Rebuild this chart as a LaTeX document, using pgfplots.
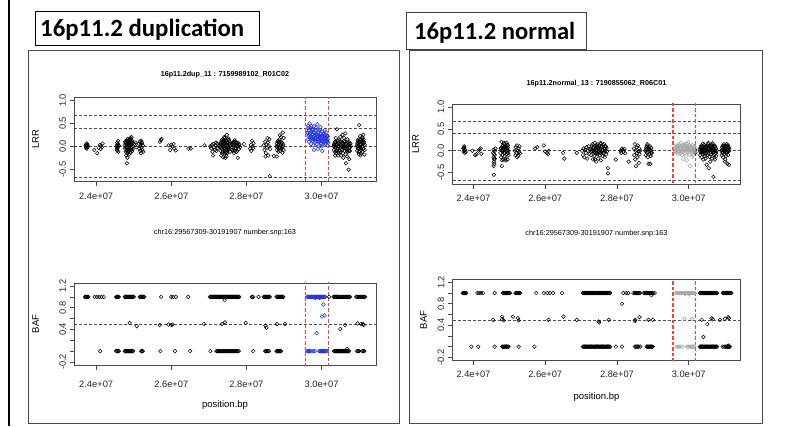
\documentclass[border=0pt]{standalone}
\usepackage{pgfplots}
\pgfplotsset{compat=1.18}
\usepackage{fontspec}
\setmainfont{Liberation Sans}
\newfontfamily\carlito{Carlito}
\definecolor{ptblue}{HTML}{2234E6}
\definecolor{ptgray}{HTML}{A8A8A8}
\definecolor{redl}{HTML}{F24444}
\definecolor{dashg}{HTML}{505050}
\definecolor{frameg}{HTML}{4A4A4A}
\pgfplotsset{
  rplot/.style={
    scale only axis, anchor=south west,
    xmin=23.41, xmax=31.45,
    axis line style={draw=frameg, line width=0.6pt},
    tick align=outside, major tick length=4.5pt,
    tick style={draw=frameg, line width=0.6pt},
    tick pos=left,
    xtick={24,26,28,30}, xticklabels={2.4e+07,2.6e+07,2.8e+07,3.0e+07},
    tick label style={font=\fontsize{9.3}{11}\selectfont, text=black!85},
    xticklabel style={yshift=-3pt},
    yticklabel style={rotate=90, anchor=south},
    clip=true,
  },
  pts/.style={only marks, mark=o, mark size=1.85pt, mark options={line width=0.5pt}},
  hl/.style={color=dashg, line width=0.55pt, dash pattern=on 3pt off 2pt},
  vl/.style={draw=redl, line width=1.4pt, dash pattern=on 3.5pt off 2pt},
}
\begin{document}
\begin{tikzpicture}[x=1pt,y=1pt]
\useasboundingbox (0,0) rectangle (811,426);
\draw[black, line width=2.6pt] (9,0) -- (9,426);
\draw[frameg, line width=0.9pt] (28,3) rectangle (399,376);
\draw[frameg, line width=0.9pt] (409.3,3) rectangle (762.7,375.3);

% ================= LEFT LRR =================
\begin{axis}[rplot, at={(74pt,244.4pt)}, width=302pt, height=84.4pt,
  ymin=-0.768, ymax=1.068, ytick={-0.5,0,0.5,1}, yticklabels={-0.5,0.0,0.5,1.0}]
\addplot[pts, black] coordinates {
(23.72,0.02)(23.73,-0.03)(23.74,0.04)(23.73,0.0)(23.75,-0.05)(23.76,0.01)(23.74,-0.02)(23.77,0.03)(23.75,0.06)(23.78,-0.01)
(23.95,-0.08)(24.03,-0.15)(24.07,-0.03)(24.1,0.03)(24.12,-0.06)(24.15,-0.02)(24.17,0.06)(24.13,0.01)
(24.54,0.0)(24.55,-0.08)(24.56,0.08)(24.57,-0.03)(24.58,0.05)(24.59,-0.12)(24.6,0.02)(24.55,0.03)(24.57,-0.1)(24.58,0.12)(24.56,-0.05)(24.59,0.0)
(24.76,0.02)(24.77,-0.05)(24.78,0.08)(24.79,-0.12)(24.8,0.0)(24.8,-0.2)(24.81,0.05)(24.82,-0.37)(24.82,-0.08)(24.83,0.1)(24.84,-0.15)(24.84,0.03)(24.85,-0.02)(24.86,0.12)(24.86,-0.1)(24.87,0.06)(24.88,-0.05)(24.88,0.15)(24.89,0.0)(24.9,-0.12)(24.9,0.08)(24.91,0.18)(24.92,-0.03)(24.92,0.1)(24.93,-0.08)(24.94,0.04)(24.94,0.2)(24.95,-0.02)(24.96,0.12)(24.96,-0.1)(24.97,0.06)(24.98,0.0)(24.83,-0.25)(24.87,-0.18)(24.93,0.16)(24.85,0.07)(24.81,-0.1)(24.89,0.1)
(24.77,0.1)(24.78,-0.02)(24.79,0.06)(24.81,0.13)(24.83,-0.04)(24.85,-0.12)(24.87,0.02)(24.89,-0.1)(24.91,0.04)(24.92,-0.14)(24.95,0.09)(24.97,-0.06)(24.84,0.16)(24.9,0.0)(24.86,-0.06)
(25.02,0.05)(25.05,0.08)(25.07,-0.02)
(25.14,0.05)(25.15,-0.05)(25.16,0.1)(25.17,-0.1)(25.18,0.0)(25.19,-0.15)(25.2,0.12)(25.21,-0.03)(25.22,0.07)(25.23,-0.08)(25.24,0.02)(25.25,-0.12)(25.19,0.04)(25.21,0.09)
(25.7,0.1)(25.72,0.14)(25.74,0.16)(25.93,0.02)(25.97,-0.08)(26.0,0.03)(26.03,0.0)(26.08,-0.05)(26.12,-0.09)(26.06,0.05)
(26.46,-0.05)(26.52,-0.05)(26.88,0.02)
(27.04,0.0)(27.06,-0.05)(27.08,0.03)(27.1,-0.12)(27.12,0.05)(27.14,-0.02)(27.16,-0.08)(27.18,0.02)(27.2,-0.1)(27.22,0.06)(27.24,-0.04)(27.26,0.0)(27.11,-0.2)(27.19,0.08)
(27.3,0.0)(27.31,-0.1)(27.32,0.08)(27.33,-0.2)(27.34,0.04)(27.35,-0.06)(27.36,0.15)(27.37,-0.12)(27.38,0.02)(27.39,0.1)(27.4,-0.04)(27.41,0.2)(27.42,-0.15)(27.43,0.06)(27.44,-0.25)(27.45,0.0)(27.46,0.12)(27.47,-0.08)(27.48,0.25)(27.49,0.03)(27.5,-0.1)(27.51,0.08)(27.52,-0.05)(27.53,0.14)(27.54,-0.02)(27.55,0.05)(27.56,-0.12)(27.57,0.01)(27.38,-0.24)(27.47,-0.22)(27.42,0.18)(27.35,0.1)(27.45,-0.14)(27.52,0.17)(27.4,0.05)
(27.31,0.06)(27.33,-0.03)(27.36,-0.16)(27.37,0.05)(27.39,-0.08)(27.41,0.0)(27.43,-0.1)(27.44,0.09)(27.46,-0.03)(27.48,0.07)(27.49,-0.15)(27.5,0.15)(27.51,-0.02)(27.53,-0.07)(27.55,0.11)(27.56,0.06)(27.34,0.13)(27.4,0.13)
(27.61,-0.02)(27.62,0.05)(27.64,-0.1)(27.65,0.08)(27.67,0.0)(27.68,-0.08)(27.7,0.1)(27.71,-0.04)(27.73,0.03)(27.74,-0.12)(27.76,0.06)(27.77,-0.25)(27.78,0.0)(27.8,-0.06)(27.81,0.04)(27.83,-0.02)(27.69,0.13)(27.66,-0.15)
(27.62,-0.08)(27.64,0.02)(27.66,0.1)(27.68,0.05)(27.7,-0.05)(27.72,0.08)(27.74,0.0)(27.76,-0.1)(27.78,0.08)(27.8,0.02)
(27.93,0.05)
(28.1,-0.05)(28.12,0.03)(28.13,-0.1)(28.15,0.12)(28.16,0.0)(28.18,-0.04)(28.19,0.07)
(28.46,0.02)(28.48,-0.08)(28.5,0.1)(28.52,-0.15)(28.53,0.04)(28.55,-0.03)(28.57,0.08)(28.58,-0.2)(28.6,0.0)(28.61,0.15)(28.62,-0.65)(28.63,-0.06)(28.51,-0.22)(28.56,0.18)
(28.73,-0.21)
(28.8,0.0)(28.81,-0.22)(28.82,-0.08)(28.83,0.1)(28.85,-0.12)(28.86,0.05)(28.87,-0.03)(28.88,0.15)(28.9,-0.1)(28.91,0.02)(28.92,0.2)(28.93,-0.06)(28.95,0.08)(28.96,-0.14)(28.97,0.3)(28.98,0.04)(28.99,0.18)(28.89,0.24)(28.84,0.12)
(28.81,0.06)(28.83,-0.04)(28.85,0.02)(28.87,0.1)(28.89,-0.05)(28.91,0.1)(28.93,0.05)(28.95,-0.04)(28.97,0.0)(28.99,-0.08)
(30.32,0.0)(30.33,-0.08)(30.34,0.05)(30.35,-0.12)(30.36,0.1)(30.37,-0.03)(30.38,0.08)(30.39,-0.15)(30.4,0.02)(30.41,0.37)(30.42,-0.06)(30.43,0.12)(30.44,-0.2)(30.45,0.0)(30.46,0.15)(30.47,-0.1)(30.48,0.05)(30.49,-0.04)(30.5,0.2)(30.51,-0.12)(30.52,0.03)(30.53,0.1)(30.54,-0.08)(30.55,0.0)(30.56,0.25)(30.57,-0.15)(30.58,0.06)(30.59,-0.02)(30.6,0.12)(30.61,-0.1)(30.62,0.04)(30.63,0.28)(30.64,-0.18)(30.65,-0.37)(30.66,0.0)(30.67,0.08)(30.68,-0.06)(30.69,0.15)(30.7,-0.12)(30.71,0.02)(30.72,-0.51)(30.73,0.1)(30.74,-0.04)(30.75,0.05)(30.76,-0.1)(30.78,0.0)(30.38,0.18)(30.45,-0.14)(30.52,-0.2)(30.6,0.18)(30.68,-0.22)(30.74,-0.28)(30.58,-0.25)(30.36,-0.2)
(30.33,0.04)(30.35,0.0)(30.37,0.1)(30.39,0.04)(30.41,-0.1)(30.43,0.0)(30.45,0.07)(30.47,0.0)(30.49,0.1)(30.51,0.02)(30.53,-0.05)(30.55,0.08)(30.57,0.0)(30.59,0.1)(30.61,0.0)(30.63,-0.04)(30.65,0.06)(30.67,-0.1)(30.69,0.0)(30.71,0.08)(30.73,-0.1)(30.75,-0.02)(30.77,0.06)
(30.94,0.0)(30.95,-0.1)(30.96,0.08)(30.97,-0.05)(30.98,0.15)(30.99,0.02)(31.0,0.46)(31.0,-0.12)(31.01,0.1)(31.02,-0.02)(31.03,0.22)(31.04,-0.15)(31.05,0.05)(31.06,-0.08)(31.07,0.18)(31.08,0.0)(31.09,-0.12)(31.1,0.12)(31.11,0.25)(31.12,-0.05)(31.13,0.07)(31.14,-0.18)(31.15,0.03)(30.97,0.12)(31.03,-0.2)(31.09,0.2)(31.12,0.15)(31.06,0.1)(30.99,-0.17)
(30.95,0.05)(30.97,0.0)(30.99,0.08)(31.01,-0.05)(31.03,0.04)(31.05,-0.04)(31.07,0.0)(31.09,0.06)(31.11,-0.06)(31.13,0.1)(31.15,-0.08)(31.05,0.14)
};
\addplot[pts, ptblue] coordinates {
(29.62,0.3)(29.63,0.15)(29.64,0.45)(29.65,0.22)(29.66,0.35)(29.67,0.1)(29.68,0.5)(29.69,0.28)(29.7,0.18)(29.71,0.4)(29.72,0.05)(29.73,0.32)(29.74,0.2)(29.75,0.38)(29.76,0.12)(29.77,0.26)(29.78,0.02)(29.79,0.3)(29.8,-0.08)(29.8,0.44)(29.81,0.15)(29.82,0.24)(29.83,0.08)(29.84,0.35)(29.85,0.18)(29.86,0.28)(29.87,0.05)(29.88,0.22)(29.89,0.48)(29.9,0.14)(29.91,0.3)(29.92,0.1)(29.93,0.25)(29.94,0.0)(29.95,0.2)(29.96,0.36)(29.97,0.12)(29.98,0.27)(29.99,0.06)(30.0,0.18)(30.01,0.32)(30.02,0.1)(30.03,0.22)(30.04,0.04)(30.05,0.16)(30.06,0.28)(30.07,0.08)(30.08,0.2)(30.09,0.12)(30.1,0.25)(30.11,0.05)(30.12,0.18)(30.13,0.3)(30.14,0.1)(30.15,0.22)(30.16,0.02)(30.17,0.15)(30.18,0.08)(29.9,-0.06)(30.02,-0.1)(29.97,0.42)(29.73,0.44)(29.85,0.12)(30.0,0.0)(30.08,0.35)(29.67,0.25)(29.77,0.16)(29.93,0.16)(30.05,0.26)(30.13,0.14)
(29.63,0.28)(29.65,0.4)(29.67,0.35)(29.69,0.2)(29.71,0.3)(29.73,0.15)(29.75,0.25)(29.77,0.36)(29.79,0.2)(29.81,0.3)(29.83,0.18)(29.85,0.4)(29.87,0.25)(29.89,0.15)(29.91,0.2)(29.93,0.35)(29.95,0.1)(29.97,0.2)(29.99,0.15)(30.01,0.22)(30.03,0.12)(30.05,0.08)(30.07,0.18)(30.09,0.24)(30.11,0.14)(30.13,0.2)(30.15,0.1)(30.17,0.22)
};
\addplot[hl] coordinates {(23,0.67)(32,0.67)};
\addplot[hl] coordinates {(23,0.4)(32,0.4)};
\addplot[hl] coordinates {(23,0)(32,0)};
\addplot[hl] coordinates {(23,-0.67)(32,-0.67)};
\addplot[vl] coordinates {(29.567,-1)(29.567,2)};
\addplot[vl] coordinates {(30.192,-1)(30.192,2)};
\end{axis}

% ================= LEFT BAF =================
\begin{axis}[rplot, at={(74pt,61pt)}, width=302pt, height=82pt,
  ymin=-0.256, ymax=1.256, ytick={-0.2,0,0.2,0.4,0.6,0.8,1.0,1.2}, yticklabels={-0.2,,,0.4,,0.8,,1.2},
  xticklabel style={yshift=-5pt}]
\addplot[pts, black] coordinates {
(23.70,1)(23.715,1)(23.73,1)(23.745,1)(23.76,1)(23.775,1)(23.79,1)(23.96,1)(24.02,1)(24.08,1)(24.14,1)(24.2,1)
(24.53,1)(24.545,1)(24.56,1)(24.575,1)(24.59,1)(24.605,1)
(24.76,1)(24.78,1)(24.8,1)(24.82,1)(24.84,1)(24.86,1)(24.88,1)(24.9,1)(24.92,1)(24.94,1)(24.96,1)(24.98,1)(25.0,1)
(25.16,1)(25.18,1)(25.2,1)(25.22,1)(25.24,1)(25.26,1)(25.28,1)(25.73,1)(26.0,1)(26.05,1)(26.12,1)(26.45,1)
(27.03,1)(27.05,1)(27.07,1)(27.09,1)(27.11,1)(27.13,1)(27.15,1)(27.17,1)(27.19,1)(27.21,1)(27.23,1)(27.25,1)(27.27,1)(27.29,1)(27.31,1)(27.33,1)(27.35,1)(27.37,1)(27.39,1)(27.41,1)(27.43,1)(27.45,1)(27.47,1)(27.49,1)(27.51,1)(27.53,1)(27.55,1)(27.57,1)(27.59,1)(27.61,1)(27.63,1)(27.65,1)(27.67,1)(27.69,1)(27.71,1)(27.73,1)(27.75,1)(27.77,1)(27.79,1)(27.81,1)(27.42,0.94)
(28.14,1)(28.16,1)(28.18,1)(28.32,1)(28.46,1)(28.48,1)(28.5,1)(28.52,1)(28.54,1)(28.56,1)(28.58,1)(28.6,1)(28.62,1)
(28.8,1)(28.82,1)(28.84,1)(28.86,1)(28.88,1)(28.9,1)(28.92,1)(28.94,1)(28.96,1)(28.98,1)
(30.2,1)(30.32,1)(30.34,1)(30.36,1)(30.38,1)(30.4,1)(30.42,1)(30.44,1)(30.46,1)(30.48,1)(30.5,1)(30.52,1)(30.54,1)(30.56,1)(30.58,1)(30.6,1)(30.62,1)(30.64,1)(30.66,1)(30.68,1)(30.7,1)(30.72,1)(30.74,1)(30.76,1)
(30.92,1)(30.94,1)(30.96,1)(30.98,1)(31.0,1)(31.02,1)(31.04,1)(31.06,1)(31.08,1)(31.1,1)(31.12,1)(31.14,1)(31.16,1)
(24.11,0)(24.53,0)(24.55,0)(24.57,0)(24.59,0)(24.6,0)
(24.76,0)(24.78,0)(24.8,0)(24.82,0)(24.84,0)(24.86,0)(24.88,0)(24.9,0)(24.92,0)(24.94,0)(24.96,0)(24.98,0)
(25.2,0)(25.22,0)(25.24,0)(25.71,0)(26.1,0)(26.5,0)
(27.04,0)(27.2,0)(27.22,0)(27.24,0)(27.26,0)(27.28,0)(27.3,0)(27.32,0)(27.34,0)(27.36,0)(27.38,0)(27.4,0)(27.42,0)(27.44,0)(27.46,0)(27.48,0)(27.5,0)(27.52,0)(27.54,0)(27.56,0)(27.58,0)(27.6,0)(27.62,0)(27.64,0)(27.66,0)(27.68,0)(27.7,0)(27.72,0)(27.74,0)(27.76,0)(27.78,0)(27.8,0)
(28.18,0)(28.5,0)(28.52,0)(28.54,0)(28.57,0)(28.6,0)(28.8,0)(28.82,0)(28.84,0)(28.86,0)(28.88,0)(28.9,0)(28.92,0)
(30.33,0)(30.35,0)(30.37,0)(30.39,0)(30.41,0)(30.43,0)(30.45,0)(30.47,0)(30.49,0)(30.51,0)(30.53,0)(30.55,0)(30.57,0)(30.59,0)(30.61,0)(30.63,0)(30.65,0)(30.67,0)(30.69,0)(30.71,0)(30.73,0)(30.68,0.04)
(30.94,0)(30.96,0)(30.98,0)(31.0,0)(31.08,0)(31.1,0)(31.12,0)(31.14,0)
(24.89,0.52)(25.08,0.46)(25.69,0.48)(25.93,0.49)(26.0,0.48)(26.03,0.49)(26.87,0.5)(27.35,0.5)(27.43,0.53)(27.98,0.52)(28.51,0.47)(28.53,0.43)(28.81,0.5)(29.03,0.5)(30.5,0.41)(30.63,0.48)(30.96,0.51)(31.05,0.5)(31.1,0.5)(31.12,0.48)
};
\addplot[pts, ptblue] coordinates {
(29.62,1)(29.64,1)(29.66,1)(29.68,1)(29.7,1)(29.72,1)(29.74,1)(29.76,1)(29.78,1)(29.8,1)(29.82,1)(29.84,1)(29.86,1)(29.88,1)(29.9,1)(29.92,1)(29.94,1)(29.96,1)(29.98,1)(30.0,1)(30.02,1)(30.04,1)(30.06,1)(30.08,1)(30.1,1)(29.84,0.98)(29.95,0.98)
(29.62,0)(29.64,0)(29.66,0)(29.68,0)(29.72,0)(29.78,0)(29.82,0)(29.94,0)(29.96,0)(29.98,0)(30.0,0)(30.02,0)(30.04,0)(30.06,0)(30.08,0)(30.1,0)(30.12,0)(30.15,0)
(30.05,0.86)(30.01,0.64)(30.08,0.66)(29.87,0.33)
};
\addplot[hl] coordinates {(23,0.5)(32,0.5)};
\addplot[vl] coordinates {(29.567,-1)(29.567,2)};
\addplot[vl] coordinates {(30.192,-1)(30.192,2)};
\end{axis}

% ================= RIGHT LRR =================
\begin{axis}[rplot, at={(452.3pt,241.7pt)}, width=288.4pt, height=80.3pt,
  ymin=-0.768, ymax=1.068, ytick={-0.5,0,0.5,1}, yticklabels={-0.5,0.0,0.5,1.0}]
\addplot[pts, black] coordinates {
(23.72,0.05)(23.73,-0.02)(23.74,0.1)(23.75,0.0)(23.76,-0.05)(23.74,0.06)(23.77,0.02)(23.73,0.08)(23.78,-0.03)
(23.97,0.0)(24.05,-0.1)(24.08,-0.08)(24.14,0.0)(24.17,0.03)(24.2,0.05)(24.22,-0.07)
(24.55,-0.05)(24.56,-0.15)(24.57,-0.25)(24.58,-0.2)(24.56,-0.35)(24.57,-0.55)(24.59,-0.1)(24.6,0.0)(24.58,-0.3)(24.61,0.05)(24.57,-0.08)(24.59,-0.18)(24.56,0.02)
(24.75,-0.05)(24.76,0.05)(24.77,-0.15)(24.78,0.2)(24.79,-0.35)(24.8,0.1)(24.81,-0.1)(24.82,0.0)(24.83,-0.2)(24.84,0.08)(24.85,-0.05)(24.86,0.15)(24.87,-0.12)(24.88,0.03)(24.89,-0.18)(24.9,0.1)(24.91,-0.02)(24.92,0.18)(24.93,-0.08)(24.94,0.05)(24.95,-0.2)(24.96,0.12)(24.97,0.0)(24.98,-0.1)(24.8,-0.22)(24.85,0.18)(24.9,-0.22)(24.94,0.14)(24.79,0.02)(24.88,-0.05)
(24.77,0.06)(24.81,0.02)(24.83,0.12)(24.87,0.08)(24.89,0.06)(24.91,0.1)(24.93,0.02)(24.95,0.07)(24.97,-0.05)
(25.15,0.0)(25.17,-0.1)(25.18,0.08)(25.2,-0.05)(25.21,0.12)(25.23,0.0)(25.24,-0.12)(25.26,0.05)(25.27,-0.03)(25.28,0.1)(25.3,-0.06)(25.22,-0.15)
(25.72,0.05)(25.78,0.08)(25.96,0.12)(26.0,-0.02)(26.05,-0.05)(26.1,0.0)(26.08,-0.08)
(26.5,-0.05)(26.53,-0.18)(26.88,-0.05)
(27.03,0.0)(27.05,-0.1)(27.07,0.05)(27.09,-0.15)(27.11,0.02)(27.13,-0.05)(27.15,0.08)(27.17,-0.18)(27.19,0.0)(27.21,0.1)(27.23,-0.08)(27.25,0.03)
(27.27,0.05)(27.28,-0.1)(27.3,0.12)(27.31,-0.02)(27.32,0.15)(27.33,-0.2)(27.35,0.0)(27.36,0.08)(27.37,-0.12)(27.38,0.18)(27.4,-0.05)(27.41,0.1)(27.42,-0.25)(27.43,0.03)(27.45,0.14)(27.46,-0.08)(27.47,0.06)(27.48,-0.18)(27.5,0.0)(27.51,0.12)(27.52,-0.1)(27.53,0.05)(27.55,-0.22)(27.56,0.16)(27.57,-0.03)(27.58,0.08)(27.6,-0.12)(27.61,0.02)(27.62,0.12)(27.63,-0.06)(27.65,0.05)(27.66,-0.15)(27.67,0.1)(27.68,0.0)(27.7,-0.08)(27.71,0.06)(27.72,-0.02)(27.75,-0.4)(27.75,-0.52)(27.39,-0.2)(27.44,0.1)(27.54,0.18)(27.64,0.15)
(27.29,0.0)(27.34,0.06)(27.36,-0.04)(27.39,0.04)(27.42,0.0)(27.44,-0.06)(27.47,0.1)(27.49,-0.04)(27.52,0.02)(27.54,-0.05)(27.57,0.1)(27.59,0.0)(27.62,-0.04)(27.66,0.04)(27.69,0.1)
(27.97,-0.2)
(28.1,0.0)(28.12,-0.05)(28.14,0.05)(28.16,0.02)(28.18,-0.03)(28.21,0.04)(28.23,-0.06)(28.33,-0.25)
(28.47,0.05)(28.48,-0.1)(28.5,0.15)(28.51,-0.2)(28.52,0.0)(28.53,-0.35)(28.55,0.08)(28.56,-0.05)(28.57,-0.15)(28.58,0.12)(28.6,-0.02)(28.61,-0.28)(28.62,0.05)(28.63,-0.08)(28.65,0.0)
(28.79,0.0)(28.8,-0.1)(28.82,0.08)(28.83,-0.05)(28.84,0.12)(28.86,-0.15)(28.87,0.02)(28.88,-0.3)(28.9,0.05)(28.91,-0.08)(28.92,0.1)(28.93,-0.3)(28.95,0.0)(28.96,0.06)(28.97,-0.04)(28.85,0.15)(28.94,-0.12)
(28.81,0.04)(28.85,-0.02)(28.89,0.08)(28.93,0.02)(28.96,-0.06)
(30.18,0.02)(30.19,-0.05)
(30.31,0.0)(30.32,-0.1)(30.33,0.08)(30.34,-0.04)(30.35,0.12)(30.36,-0.15)(30.37,0.02)(30.38,0.1)(30.39,-0.08)(30.4,0.05)(30.41,-0.2)(30.42,0.0)(30.43,0.14)(30.44,-0.06)(30.45,0.06)(30.46,-0.12)(30.47,0.02)(30.48,0.1)(30.49,-0.03)(30.5,-0.32)(30.51,0.08)(30.52,-0.1)(30.53,0.0)(30.54,0.15)(30.55,-0.06)(30.56,-0.4)(30.57,0.04)(30.58,-0.14)(30.59,0.1)(30.6,-0.25)(30.61,0.02)(30.62,0.12)(30.63,-0.08)(30.64,0.06)(30.65,-0.18)(30.66,0.0)(30.67,0.17)(30.68,-0.05)(30.69,-0.6)(30.7,0.08)(30.71,-0.1)(30.72,0.03)(30.73,-0.2)(30.74,0.1)(30.75,-0.04)(30.76,0.05)(30.77,-0.12)(30.78,0.0)(30.4,0.16)(30.47,-0.18)(30.55,0.18)(30.65,0.14)(30.72,-0.15)
(30.32,0.04)(30.34,0.06)(30.36,0.0)(30.38,-0.04)(30.4,0.1)(30.42,0.06)(30.44,0.02)(30.46,0.08)(30.48,-0.06)(30.5,0.04)(30.52,0.1)(30.54,-0.02)(30.56,0.06)(30.58,0.0)(30.6,0.08)(30.62,-0.04)(30.64,0.02)(30.66,0.1)(30.68,0.04)(30.7,-0.02)(30.72,0.1)(30.74,0.0)(30.76,-0.06)
(30.91,0.0)(30.92,-0.1)(30.93,0.08)(30.94,-0.05)(30.95,0.12)(30.96,-0.15)(30.97,0.02)(30.98,0.15)(30.99,-0.08)(31.0,0.05)(31.01,-0.25)(31.02,0.0)(31.03,0.1)(31.04,-0.12)(31.05,0.04)(31.06,-0.05)(31.07,0.12)(31.08,-0.3)(31.09,0.02)(31.1,-0.1)(31.11,0.08)(31.12,-0.32)(31.13,0.0)(30.96,0.1)(31.02,-0.2)(31.06,0.15)(31.1,0.12)
(30.93,0.02)(30.95,-0.02)(30.97,0.06)(30.99,0.1)(31.01,0.04)(31.03,-0.04)(31.05,0.08)(31.07,-0.02)(31.09,0.06)(31.11,0.0)(31.13,0.05)
};
\addplot[pts, ptgray] coordinates {
(29.62,0.05)(29.63,-0.02)(29.64,0.1)(29.65,0.0)(29.66,0.08)(29.67,-0.05)(29.68,0.12)(29.69,0.02)(29.7,-0.08)(29.71,0.06)(29.72,0.15)(29.73,-0.03)(29.74,0.04)(29.75,0.1)(29.76,-0.06)(29.77,0.02)(29.78,0.18)(29.79,0.0)(29.8,0.08)(29.81,-0.1)(29.82,0.05)(29.83,0.12)(29.84,-0.02)(29.85,-0.2)(29.86,0.06)(29.87,0.14)(29.88,0.0)(29.89,-0.05)(29.9,0.1)(29.91,0.03)(29.92,-0.12)(29.93,0.07)(29.94,0.16)(29.95,-0.22)(29.96,0.02)(29.97,0.09)(29.98,-0.04)(29.99,0.2)(30.0,0.05)(30.01,-0.08)(30.02,0.12)(30.03,0.0)(30.04,-0.35)(30.05,0.07)(30.06,-0.03)(30.07,0.1)(30.08,0.02)(30.09,-0.06)(30.1,0.14)(30.11,0.04)(30.12,-0.1)(30.13,0.08)(30.14,0.0)(30.15,0.11)(30.16,-0.04)(30.17,0.06)(29.7,0.1)(29.8,-0.04)(29.9,0.15)(30.0,-0.02)(30.1,-0.14)
(29.64,0.03)(29.68,0.06)(29.72,0.0)(29.76,0.08)(29.8,0.02)(29.84,0.06)(29.88,0.1)(29.92,0.02)(29.96,0.06)(30.0,0.1)(30.04,0.03)(30.08,0.07)(30.12,0.02)(30.16,0.08)
};
\addplot[hl] coordinates {(23,0.67)(32,0.67)};
\addplot[hl] coordinates {(23,0.4)(32,0.4)};
\addplot[hl] coordinates {(23,0)(32,0)};
\addplot[hl] coordinates {(23,-0.67)(32,-0.67)};
\addplot[vl] coordinates {(29.567,-1)(29.567,2)};
\addplot[vl] coordinates {(30.192,-1)(30.192,2)};
\end{axis}

% ================= RIGHT BAF =================
\begin{axis}[rplot, at={(452.3pt,65.6pt)}, width=288.4pt, height=81.1pt,
  ymin=-0.256, ymax=1.256, ytick={-0.2,0,0.2,0.4,0.6,0.8,1.0,1.2}, yticklabels={-0.2,,,0.4,,0.8,,1.2}]
\addplot[pts, black] coordinates {
(23.70,1)(23.715,1)(23.73,1)(23.745,1)(23.76,1)(23.78,1)(23.8,1)(24.11,1)(24.16,1)(24.21,1)(24.26,1)(24.59,1)
(24.82,1)(24.84,1)(24.86,1)(24.88,1)(24.9,1)(24.92,1)(24.94,1)(24.96,1)(24.98,1)(25.0,1)(25.02,1)(25.17,1)(25.19,1)(25.21,1)(25.24,1)(25.26,1)(25.28,1)(25.3,1)
(25.75,1)(25.96,1)(26.06,1)(26.13,1)(26.22,1)(26.47,1)
(27.05,1)(27.07,1)(27.09,1)(27.11,1)(27.13,1)(27.15,1)(27.17,1)(27.19,1)(27.21,1)(27.23,1)(27.25,1)(27.27,1)(27.29,1)(27.31,1)(27.33,1)(27.35,1)(27.37,1)(27.39,1)(27.41,1)(27.43,1)(27.45,1)(27.47,1)(27.49,1)(27.51,1)(27.53,1)(27.55,1)(27.57,1)(27.59,1)(27.61,1)(27.63,1)(27.65,1)(27.67,1)(27.69,1)(27.71,1)(27.73,1)(27.75,1)(27.77,1)(27.79,1)(27.81,1)
(28.18,1)(28.26,1)(28.32,1)(28.46,1)(28.5,1)(28.52,1)(28.54,1)(28.56,1)(28.58,1)(28.6,1)(28.62,1)(28.64,1)(28.74,1)(28.78,1)(28.8,1)(28.82,1)(28.84,1)(28.86,1)(28.88,1)(28.9,1)(28.92,1)(28.94,1)(28.96,1)(28.98,1)(29.0,1)(29.05,1)(28.96,0.96)
(30.31,1)(30.33,1)(30.35,1)(30.37,1)(30.39,1)(30.41,1)(30.43,1)(30.45,1)(30.47,1)(30.49,1)(30.51,1)(30.53,1)(30.55,1)(30.57,1)(30.59,1)(30.61,1)(30.63,1)(30.65,1)(30.67,1)(30.69,1)(30.71,1)(30.73,1)(30.75,1)(30.77,1)(30.79,1)
(30.95,1)(30.97,1)(30.99,1)(31.01,1)(31.03,1)(31.05,1)(31.07,1)(31.09,1)(31.11,1)(31.13,1)(31.15,1)(31.17,1)(31.19,1)
(23.94,0)(24.13,0)(24.59,0)(24.8,0)(24.82,0)(24.84,0)(24.86,0)(24.88,0)(24.9,0)(24.92,0)(24.94,0)(24.96,0)(24.98,0)(25.26,0)(25.7,0)
(27.05,0)(27.07,0)(27.09,0)(27.11,0)(27.13,0)(27.15,0)(27.17,0)(27.19,0)(27.21,0)(27.23,0)(27.25,0)(27.27,0)(27.29,0)(27.31,0)(27.33,0)(27.35,0)(27.37,0)(27.39,0)(27.41,0)(27.43,0)(27.45,0)(27.47,0)(27.49,0)(27.51,0)(27.53,0)(27.55,0)(27.57,0)(27.59,0)(27.61,0)(27.63,0)(27.65,0)(27.67,0)(27.69,0)(27.71,0)(27.73,0)(27.75,0)(27.77,0)(27.79,0)(27.81,0)
(27.97,0)(28.14,0)(28.5,0)(28.52,0)(28.55,0)(28.58,0)(28.6,0)(28.65,0)(28.83,0)(28.85,0)(28.87,0)(28.89,0)(28.91,0)(28.93,0)(28.95,0)(28.97,0)(29.0,0)
(30.31,0)(30.33,0)(30.35,0)(30.37,0)(30.39,0)(30.41,0)(30.43,0)(30.45,0)(30.47,0)(30.49,0)(30.51,0)(30.53,0)(30.55,0)(30.57,0)(30.59,0)(30.61,0)(30.63,0)(30.65,0)(30.67,0)(30.69,0)(30.71,0)(30.73,0)(30.75,0)(30.77,0)(30.79,0)
(30.95,0)(30.99,0)(31.03,0)(31.05,0)(31.07,0)(31.09,0)(31.11,0)(31.13,0)(31.15,0)(31.1,0.02)
(24.55,0.5)(24.8,0.56)(24.8,0.51)(24.84,0.49)(25.1,0.56)(25.26,0.49)(25.24,0.53)(26.09,0.5)(26.51,0.56)(26.88,0.5)(27.49,0.47)(27.5,0.45)(27.77,0.5)(28.51,0.5)(28.63,0.55)(28.5,0.48)(28.88,0.5)(29.0,0.5)(28.14,0.8)
(30.36,0.5)(30.41,0.18)(30.52,0.42)(30.64,0.53)(30.67,0.51)(30.87,0.5)(31.01,0.52)(31.1,0.55)(31.12,0.53)
};
\addplot[pts, ptgray] coordinates {
(29.65,1)(29.67,1)(29.69,1)(29.71,1)(29.73,1)(29.75,1)(29.77,1)(29.79,1)(29.81,1)(29.83,1)(29.85,1)(29.87,1)(29.89,1)(29.91,1)(29.93,1)(29.95,1)(29.97,1)(29.99,1)(30.01,1)(30.03,1)(30.05,1)(30.07,1)(30.09,1)(30.11,1)(30.13,1)(30.15,1)(30.17,1)(29.9,0.98)(30.0,0.98)
(29.67,0)(29.7,0)(29.73,0)(29.77,0)(29.83,0)(29.95,0)(29.98,0)(30.01,0)(30.04,0)(30.07,0)(30.1,0)(30.13,0)(30.15,0)
(29.88,0.52)(30.09,0.52)
};
\addplot[hl] coordinates {(23,0.5)(32,0.5)};
\addplot[vl] coordinates {(29.567,-1)(29.567,2)};
\addplot[vl] coordinates {(30.192,-1)(30.192,2)};
\end{axis}

% ================= texts =================
\node[font=\bfseries\fontsize{7.2}{8}\selectfont] at (225,351) {16p11.2dup\_11 : 7159989102\_R01C02};
\node[font=\bfseries\fontsize{7.2}{8}\selectfont] at (596.5,342.7) {16p11.2normal\_13 : 7190855062\_R06C01};
\node[font=\fontsize{7.3}{8}\selectfont] at (225,193.3) {chr16:29567309-30191907 number.snp:163};
\node[font=\fontsize{7.3}{8}\selectfont] at (596.5,192.7) {chr16:29567309-30191907 number.snp:163};
\node[font=\fontsize{9.5}{11}\selectfont] at (225,21) {position.bp};
\node[font=\fontsize{9.5}{11}\selectfont] at (596.5,28.7) {position.bp};
\node[font=\fontsize{9.5}{11}\selectfont, rotate=90] at (35.7,286.6) {LRR};
\node[font=\fontsize{9.5}{11}\selectfont, rotate=90] at (35.7,102) {BAF};
\node[font=\fontsize{9.5}{11}\selectfont, rotate=90] at (415.5,281.8) {LRR};
\node[font=\fontsize{9.5}{11}\selectfont, rotate=90] at (423.5,106.1) {BAF};
\draw[black, line width=0.8pt, fill=white] (35,381) rectangle (259,415);
\node[font=\carlito\bfseries\fontsize{24.8}{27}\selectfont, anchor=base west, inner sep=0pt] at (40,389.3) {16p11.2 duplication};
\draw[black!75, line width=0.8pt, fill=white] (406,376.7) rectangle (586.7,414);
\node[font=\carlito\bfseries\fontsize{24.6}{27}\selectfont, anchor=base west, inner sep=0pt] at (414,386) {16p11.2 normal};
\end{tikzpicture}
\end{document}
